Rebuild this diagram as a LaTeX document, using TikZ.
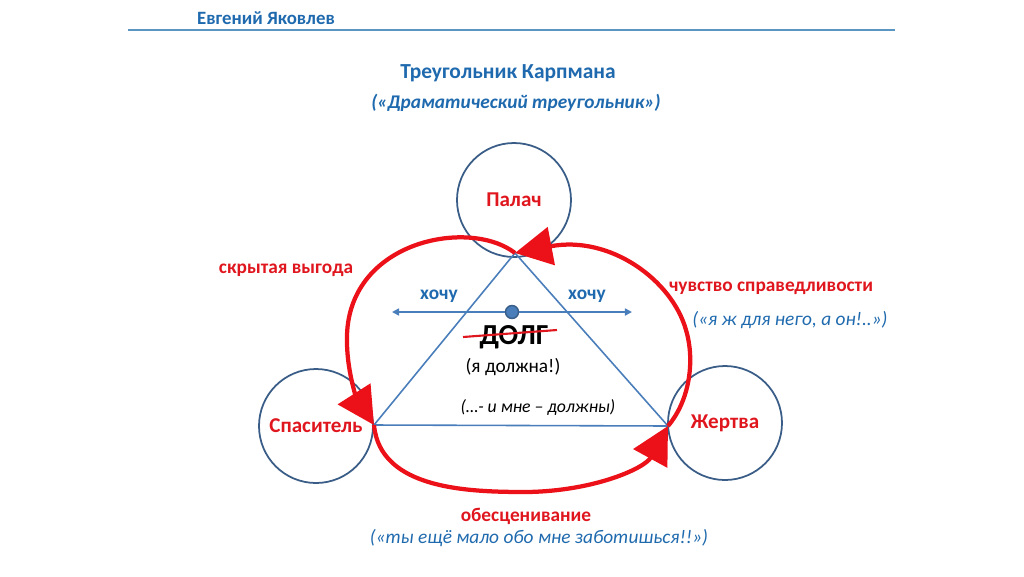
\documentclass[tikz,border=0pt]{standalone}
\usepackage{fontspec}
\setmainfont{Carlito}
\usepackage{tikz}
\usetikzlibrary{arrows.meta}
\definecolor{karpblue}{HTML}{1F6AAE}
\definecolor{karpred}{HTML}{E0161E}
\definecolor{gamered}{HTML}{EC1018}
\definecolor{ringline}{HTML}{3A5D88}
\definecolor{triline}{HTML}{4A7EBB}
\definecolor{ruleline}{HTML}{5B95C2}

\begin{document}
\begin{tikzpicture}[
    x=0.2mm, y=-0.2mm,
    role/.style={circle, draw=ringline, line width=1pt, minimum size=22.8mm, inner sep=0pt, text=karpred, font=\bfseries\fontsize{12}{14}\selectfont},
    redtext/.style={text=karpred, font=\bfseries\fontsize{11}{13}\selectfont},
    bluequote/.style={text=karpblue, font=\itshape\fontsize{11}{13}\selectfont},
    game/.style={line width=0.85mm, gamered, -{Triangle[length=7.4mm, width=7.6mm]}},
    side/.style={line width=0.9pt, triline}
]
\useasboundingbox (0,0) rectangle (1024,576);

% Header
\node[text=karpblue, font=\bfseries\fontsize{10.7}{12}\selectfont] (author) at (266,18) {Евгений Яковлев};
\coordinate (r1) at (128,30);
\coordinate (r2) at (895,30);
\draw[ruleline, line width=1pt] (r1) -- (r2);
\node[text=karpblue, font=\bfseries\fontsize{12.2}{14}\selectfont] (title) at (508,73) {Треугольник Карпмана};
\node[bluequote, font=\bfseries\itshape\fontsize{11}{13}\selectfont] (subtitle) at (516,103) {(«Драматический треугольник»)};

% Roles
\node[role] (pal) at (514,200) {Палач};
\node[role] (spa) at (316,426) {Спаситель};
\node[role] (zhe) at (725,423) {Жертва};

% Triangle
\coordinate (A) at (515,253);
\coordinate (B) at (374,425);
\coordinate (C) at (668,426);
\draw[side, line join=round] (A) -- (B) -- (C) -- cycle;

% Wants
\coordinate (wl) at (392,312);
\coordinate (wr) at (632,312);
\draw[side, {Triangle[length=4pt, width=4pt]}-{Triangle[length=4pt, width=4pt]}] (wl) -- (wr);
\node[circle, fill=triline, draw=ringline, line width=0.8pt, minimum size=2.6mm, inner sep=0pt] (dot) at (512,312) {};
\node[text=karpblue, font=\bfseries\fontsize{11}{13}\selectfont] (want1) at (439,296) {хочу};
\node[text=karpblue, font=\bfseries\fontsize{11}{13}\selectfont] (want2) at (587,296) {хочу};

% Duty
\node[font=\bfseries\fontsize{16.5}{19}\selectfont] (dolg) at (514,337) {ДОЛГ};
\coordinate (s1) at (463,337);
\coordinate (s2) at (557,330);
\draw[karpred, line width=1.2pt] (s1) -- (s2);
\node[font=\fontsize{11}{13}\selectfont] (must) at (513,367) {(я должна!)};
\node[font=\itshape\fontsize{10.1}{12}\selectfont] (owed) at (538,407) {(…- и мне – должны)};

% Game arrows
\draw[game] (A) .. controls (470,218) and (350,240) .. (347,335)
    .. controls (346,372) and (358,400) .. (B);
\draw[game] (B) .. controls (380,490) and (470,492) .. (527,492)
    .. controls (595,491) and (645,468) .. (C);
\draw[game] (C) .. controls (690,400) and (695,360) .. (686,330)
    .. controls (672,280) and (610,235) .. (A);

% Labels
\node[redtext] (hidden) at (286,270) {скрытая выгода};
\node[redtext] (justice) at (771,288) {чувство справедливости};
\node[bluequote] (justq) at (790,320) {(«я ж для него, а он!..»)};
\node[redtext] (devalue) at (526,516) {обесценивание};
\node[bluequote] (devq) at (539,538) {(«ты ещё мало обо мне заботишься!!»)};
\end{tikzpicture}
\end{document}
